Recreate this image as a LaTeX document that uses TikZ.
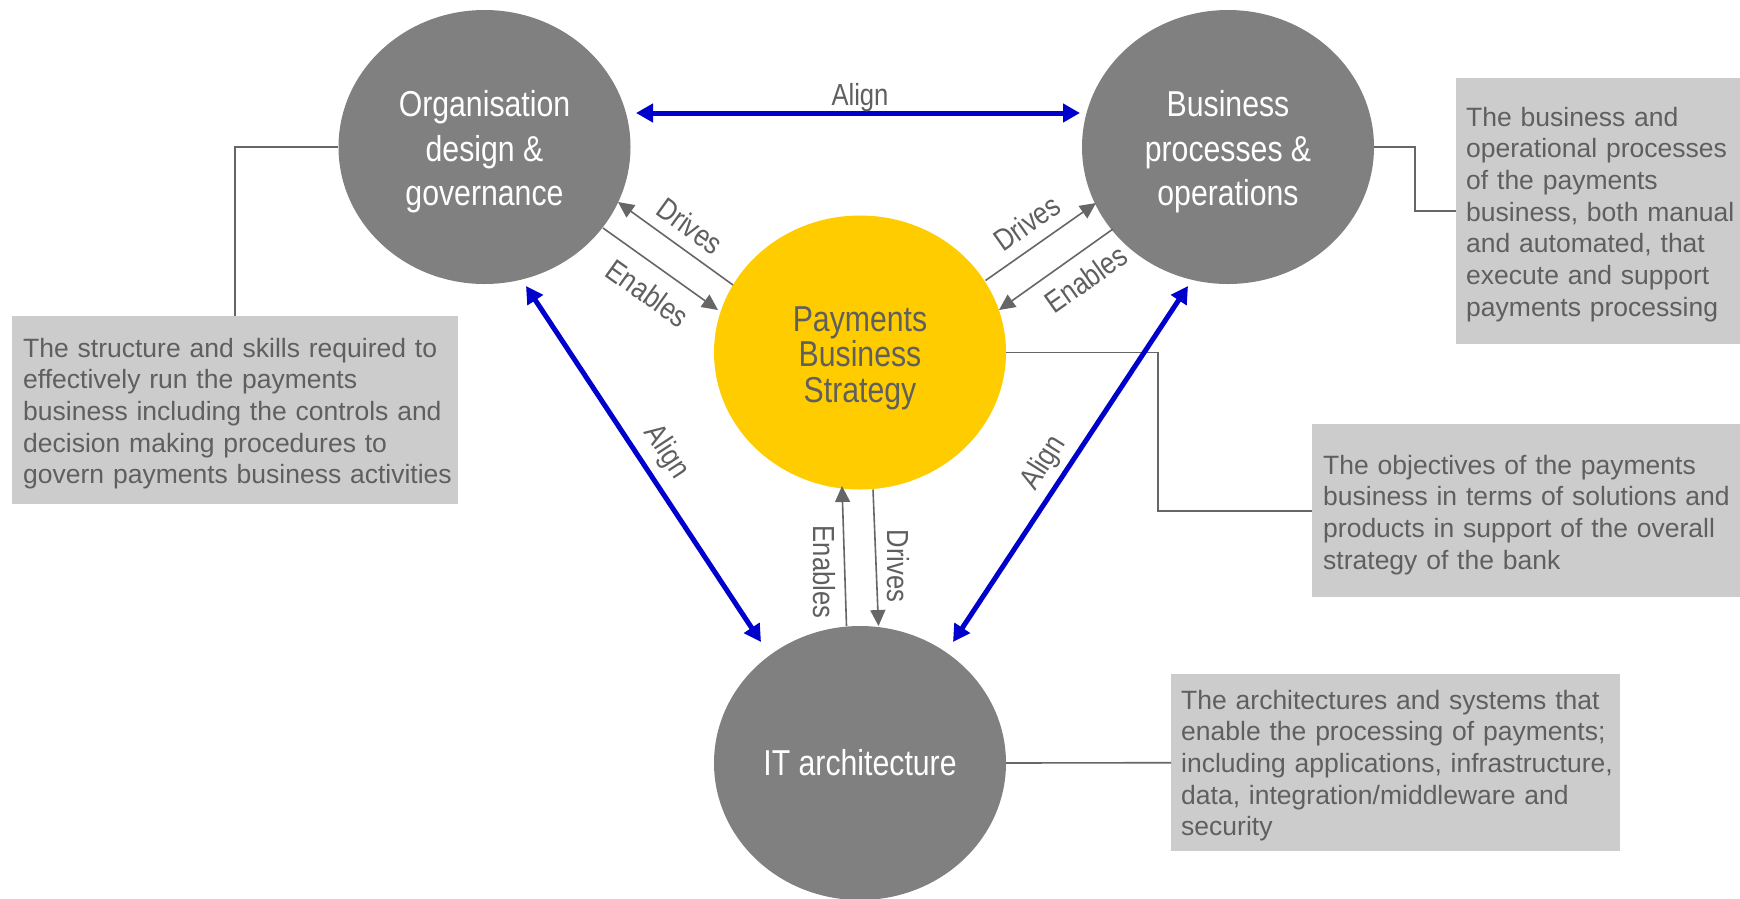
\documentclass[tikz,border=0pt]{standalone}
\usepackage{fontspec}
\setmainfont{Liberation Sans}
\newfontfamily\narrowsans[FakeStretch=0.84]{Liberation Sans}
\usetikzlibrary{shapes.geometric,arrows.meta}
\definecolor{circgray}{HTML}{808080}
\definecolor{ybs}{HTML}{FFCC00}
\definecolor{boxgray}{HTML}{CCCCCC}
\definecolor{txtgray}{HTML}{5F5F5F}
\definecolor{linegray}{HTML}{666666}
\definecolor{alignblue}{HTML}{0000CC}
\newcommand{\firstpad}{\rule{0pt}{36pt}}
\begin{document}
\begin{tikzpicture}[x=1pt,y=-1pt,
  bigcirc/.style={ellipse, minimum width=292pt, minimum height=274pt, inner sep=0pt, align=center, font=\narrowsans\fontsize{36}{44.4}\selectfont},
  graycirc/.style={bigcirc, fill=circgray, text=white},
  yellowcirc/.style={bigcirc, fill=ybs, text=txtgray, font=\narrowsans\fontsize{36}{35.5}\selectfont},
  descbox/.style={rectangle, fill=boxgray, inner sep=0pt, anchor=north west},
  desctext/.style={anchor=base west, inner sep=0pt, text width=460pt, align=left, text=txtgray, font=\fontsize{26.5}{31.7}\selectfont},
  lbl/.style={text=txtgray, inner sep=0pt, font=\narrowsans\fontsize{30.5}{34}\selectfont},
  alignarrow/.style={draw=alignblue, line width=5pt, {Triangle[length=17pt,width=18pt]}-{Triangle[length=17pt,width=18pt]}},
  relarrow/.style={draw=linegray, line width=1.6pt, -{Triangle[length=16pt,width=15pt]}},
  leader/.style={draw=linegray, line width=1.6pt}
]
\useasboundingbox (0,0) rectangle (1740,898);

% description boxes
\node[descbox, minimum width=446pt, minimum height=188pt] (b1) at (12,316) {};
\node[descbox, minimum width=284pt, minimum height=266pt] (b2) at (1456,78) {};
\node[descbox, minimum width=428pt, minimum height=173pt] (b3) at (1312,424) {};
\node[descbox, minimum width=449pt, minimum height=177pt] (b4) at (1171,674) {};

\node[desctext] (t1) at (23,357) {The structure and skills required to\\effectively run the payments\\business including the controls and\\decision making procedures to\\govern payments business activities};
\node[desctext] (t2) at (1466,126) {The business and\\operational processes\\of the payments\\business, both manual\\and automated, that\\execute and support\\payments processing};
\node[desctext] (t3) at (1323,474) {The objectives of the payments\\business in terms of solutions and\\products in support of the overall\\strategy of the bank};
\node[desctext] (t4) at (1181,709) {The architectures and systems that\\enable the processing of payments;\\including applications, infrastructure,\\data, integration/middleware and\\security};

% circles
\node[graycirc] (org) at (484.5,147) {\firstpad Organisation\\design \&\\governance};
\node[graycirc] (bus) at (1228,147) {\firstpad Business\\processes \&\\operations};
\node[yellowcirc] (pbs) at (860,352.5) {\firstpad Payments\\Business\\Strategy};
\node[graycirc] (it) at (860,763) {IT architecture};

% leader lines
\draw[leader] (org.west) -| (b1.north);
\draw[leader] (bus.east) -- ++(41,0) |- (b2.west);
\draw[leader] (pbs.east) -- ++(152,0) |- (b3.west);
\draw[leader] (it.east) -- (b4.west);

% align arrows
\draw[alignarrow] ([shift={(151.5,-34)}]org.center) -- ([shift={(-148,-34)}]bus.center);
\draw[alignarrow] ([shift={(41.5,139)}]org.center) -- ([shift={(-99,-121)}]it.center);
\draw[alignarrow] ([shift={(-40,139)}]bus.center) -- ([shift={(93,-121)}]it.center);

% drives / enables arrows
\draw[relarrow] ([shift={(-127,-67.5)}]pbs.center) -- ([shift={(133.5,55)}]org.center);
\draw[relarrow] ([shift={(118.5,81)}]org.center) -- ([shift={(-142,-42.5)}]pbs.center);
\draw[relarrow] ([shift={(125.5,-72)}]pbs.center) -- ([shift={(-132,56)}]bus.center);
\draw[relarrow] ([shift={(-115,82)}]bus.center) -- ([shift={(139,-42.5)}]pbs.center);
\draw[relarrow] ([shift={(-13.5,-137)}]it.center) -- ([shift={(-18,133.5)}]pbs.center);
\draw[relarrow] ([shift={(13,137)}]pbs.center) -- ([shift={(18.5,-137)}]it.center);

% labels
\node[lbl] (lalignt) at (860,98) {Align};
\node[lbl, rotate=-35.8] (ldrivesl) at (690,226) {Drives};
\node[lbl, rotate=-35.5] (lenablesl) at (648,293) {Enables};
\node[lbl, rotate=35.3] (ldrivesr) at (1027,223) {Drives};
\node[lbl, rotate=35.3] (lenablesr) at (1086,279) {Enables};
\node[lbl, rotate=-56.8] (lalignl) at (666,452) {Align};
\node[lbl, rotate=57.6] (lalignr) at (1044,463) {Align};
\node[lbl, rotate=-90] (lenablesb) at (824,572) {Enables};
\node[lbl, rotate=-90] (ldrivesb) at (898,566) {Drives};
\end{tikzpicture}
\end{document}
